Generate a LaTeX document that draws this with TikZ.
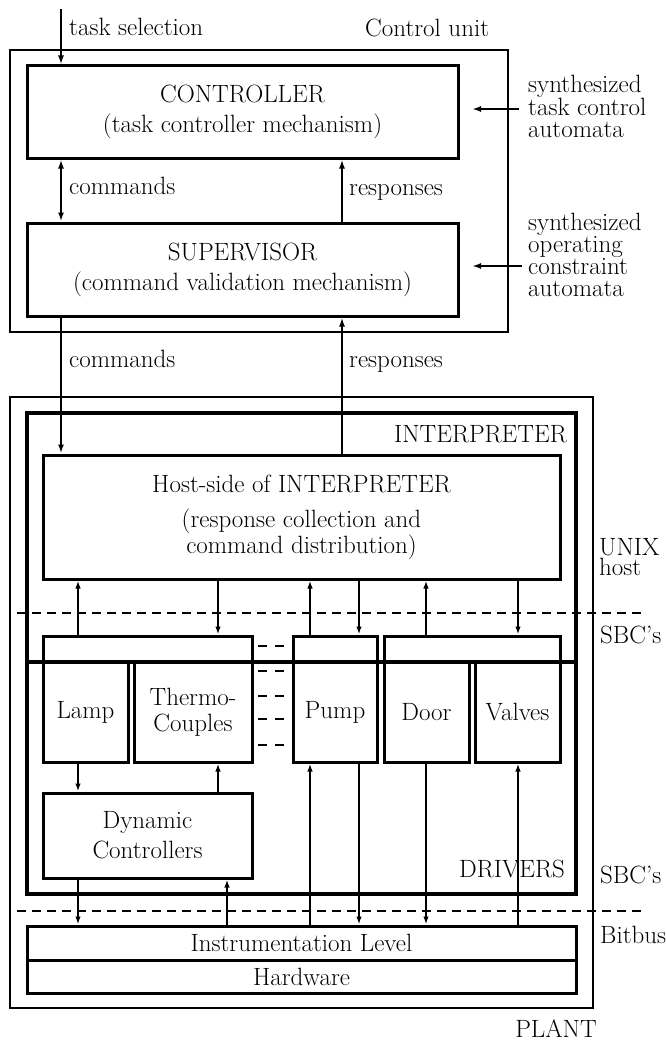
\documentclass[tikz,border=0pt]{standalone}
\usetikzlibrary{arrows.meta}

\tikzset{
  lbl/.style={font=\fontsize{25}{30}\selectfont, inner sep=0pt},
  box/.style={draw, line width=3pt, align=center, inner sep=0pt,
    font=\fontsize{25}{30}\selectfont},
  frame/.style={line width=2.5pt},
  layer/.style={line width=3.4pt},
  arr/.style={-{Latex[length=9pt,width=6pt]}, line width=2.8pt},
  both/.style={{Latex[length=9pt,width=6pt]}-{Latex[length=9pt,width=6pt]}, line width=2.8pt},
  sig/.style={-{Latex[length=8pt,width=5.5pt]}, line width=1.9pt},
  level/.style={dash pattern=on 8.5pt off 6.5pt, line width=2pt},
}

\begin{document}
\begin{tikzpicture}[x=1pt, y=-1pt]
  \useasboundingbox (0,0) rectangle (665,1041);

  % control unit
  \draw[frame] (10,50) rectangle (508,332);
  \node[lbl, anchor=base west] (culbl) at (365,37) {Control unit};
  \node[box, minimum width=431, minimum height=92] (ctrl) at (242.5,112)
    {CONTROLLER\\(task controller mechanism)};
  \node[box, minimum width=431, minimum height=93] (sup) at (242.5,269.5)
    {SUPERVISOR\\(command validation mechanism)};

  \node[lbl, anchor=base west] (tsel) at (69,36) {task selection};
  \coordinate (cL) at (61,9);
  \coordinate (cR) at (342,0);
  \draw[arr] (cL) -- (cL |- ctrl.north);
  \draw[both] (ctrl.south -| cL) -- (sup.north -| cL);
  \draw[arr] (sup.north -| cR) -- (ctrl.south -| cR);
  \node[lbl, anchor=base west] (cmd1) at (69,194) {commands};
  \node[lbl, anchor=base west] (rsp1) at (349,195) {responses};

  % synthesized automata
  \node[lbl, anchor=north west, align=left, font=\fontsize{25}{22}\selectfont]
    (autoA) at (528,75) {synthesized\\task control\\automata};
  \node[lbl, anchor=north west, align=left, font=\fontsize{25}{22}\selectfont]
    (autoB) at (528,213) {synthesized\\operating\\constraint\\automata};
  \coordinate (tipA) at (472,109);
  \coordinate (tipB) at (472,266);
  \draw[arr] (tipA -| 519,0) -- (tipA);
  \draw[arr] (tipB -| 522,0) -- (tipB);

  % plant
  \draw[frame] (10,397) rectangle (593,1008);
  \draw[layer] (27,413) rectangle (576,662);
  \draw[layer] (27,662) rectangle (576,894);
  \node[lbl, anchor=base east] (interp) at (567,442) {INTERPRETER};
  \node[lbl, anchor=base east] (drv) at (565,877) {DRIVERS};
  \node[lbl, anchor=base] (plant) at (556,1037) {PLANT};

  \node[box, minimum width=517, minimum height=124] (host) at (301.5,517)
    {Host-side of INTERPRETER\\[5pt](response collection and\\[-4pt]command distribution)};
  \draw[arr] (sup.south -| cL) -- (host.north -| cL);
  \draw[arr] (host.north -| cR) -- (sup.south -| cR);
  \node[lbl, anchor=base west] (cmd2) at (69,367) {commands};
  \node[lbl, anchor=base west] (rsp2) at (349,367) {responses};

  % single board computers
  \node[box, minimum width=209, minimum height=26] (sbcA) at (147.5,649) {};
  \node[box, minimum width=85, minimum height=100] (lamp) at (85.5,712) {Lamp};
  \node[box, minimum width=118, minimum height=100] (thermo) at (193,712)
    {Thermo-\\[-4pt]Couples};
  \node[box, minimum width=84, minimum height=26] (sbcB) at (335,649) {};
  \node[box, minimum width=84, minimum height=100] (pump) at (335,712) {Pump};
  \node[box, minimum width=176, minimum height=26] (sbcC) at (472,649) {};
  \node[box, minimum width=85, minimum height=100] (door) at (426.5,712) {Door};
  \node[box, minimum width=85, minimum height=100] (valves) at (517.5,712) {Valves};
  \draw[line width=3.4pt] (27,662) -- (576,662);

  \foreach \y in {646,671,696,719,745}
    \draw[line width=2.2pt, dash pattern=on 9pt off 8pt] (258,\y) -- (284,\y);

  \node[box, minimum width=209, minimum height=85] (dyn) at (147.5,835.5)
    {Dynamic\\Controllers};
  \node[box, minimum width=549, minimum height=34] (instr) at (301.5,943)
    {Instrumentation Level};
  \node[box, minimum width=549, minimum height=33] (hw) at (301.5,976.5) {Hardware};

  % columns of the signal lines
  \coordinate (x1) at (78,0);
  \coordinate (x2) at (218,0);
  \coordinate (x3) at (227,0);
  \coordinate (x4) at (310,0);
  \coordinate (x5) at (359,0);
  \coordinate (x6) at (426,0);
  \coordinate (x7) at (518,0);

  \draw[sig] (sbcA.north -| x1) -- (host.south -| x1);
  \draw[sig] (host.south -| x2) -- (sbcA.north -| x2);
  \draw[sig] (sbcB.north -| x4) -- (host.south -| x4);
  \draw[sig, line width=2.8pt] (host.south -| x5) -- (sbcB.north -| x5);
  \draw[sig] (sbcC.north -| x6) -- (host.south -| x6);
  \draw[sig] (host.south -| x7) -- (sbcC.north -| x7);

  \draw[sig] (lamp.south -| x1) -- (dyn.north -| x1);
  \draw[sig] (dyn.north -| x2) -- (thermo.south -| x2);
  \draw[sig] (dyn.south -| x1) -- (instr.north -| x1);
  \draw[sig] (instr.north -| x3) -- (dyn.south -| x3);
  \draw[sig] (instr.north -| x4) -- (pump.south -| x4);
  \draw[sig, line width=2.8pt] (pump.south -| x5) -- (instr.north -| x5);
  \draw[sig] (door.south -| x6) -- (instr.north -| x6);
  \draw[sig] (instr.north -| x7) -- (valves.south -| x7);

  % levels
  \draw[level] (17,613) -- (644,613);
  \draw[level, line width=2.8pt] (17,911) -- (644,911);
  \node[lbl, anchor=base west, align=left, font=\fontsize{25}{20}\selectfont]
    (unix) at (599,575) {UNIX\\host};
  \node[lbl, anchor=base west] (sbc1) at (600,643) {SBC's};
  \node[lbl, anchor=base west] (sbc2) at (600,883) {SBC's};
  \node[lbl, anchor=base west] (bitbus) at (600,943) {Bitbus};
\end{tikzpicture}
\end{document}
